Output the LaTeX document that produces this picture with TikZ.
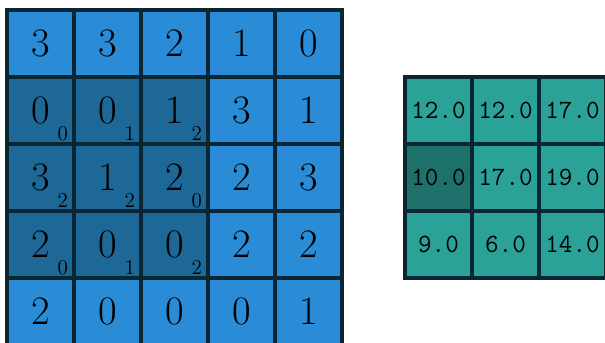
\documentclass[tikz,border=0pt]{standalone}
\usepackage{tikz}
\usetikzlibrary{calc}

\begin{document}
\begin{tikzpicture}[x=0.02cm,y=-0.02cm]
        % Define colors for the cells
        \definecolor{inlight}{RGB}{42,140,214} % Blue
        \definecolor{indark}{RGB}{30,104,152} % Darker blue
        \definecolor{outlight}{RGB}{42,162,152} % Teal
        \definecolor{outdark}{RGB}{30,112,106} % Darker teal
        \definecolor{gridline}{RGB}{10,38,50}

        \tikzset{
          cell/.style={draw=gridline, line width=2pt, minimum size=1.34cm, inner sep=0pt,
            font=\fontsize{23}{27}\selectfont},
          outcell/.style={cell, font=\fontsize{15}{18}\selectfont\ttfamily},
          subnum/.style={inner sep=0pt, font=\fontsize{12}{14}\selectfont}
        }

        % Visible window (grids run past the lower and right edges)
        \useasboundingbox (0,0) rectangle (605,342);
        \clip (0,0) rectangle (605,342);

        % Input grid
        \foreach \row [count=\r] in {{3,3,2,1,0},{0,0,1,3,1},{3,1,2,2,3},{2,0,0,2,2},{2,0,0,0,1}} {
          \foreach \val [count=\c] in \row {
            \pgfmathtruncatemacro\isdark{(\r>1)&&(\r<5)&&(\c<4)}
            \ifnum\isdark=1 \def\cellcol{indark}\else\def\cellcol{inlight}\fi
            \node[cell, fill=\cellcol] (in\r\c) at ({40.5+67*(\c-1)},{43.5+67*(\r-1)}) {\val};
          }
        }

        % Kernel weights
        \foreach \wrow [count=\r from 2] in {{0,1,2},{2,2,0},{0,1,2}} {
          \foreach \w [count=\c] in \wrow {
            \node[subnum] (w\r\c) at ($(in\r\c.south east)+(-13,-12)$) {\w};
          }
        }

        % Output grid
        \foreach \row [count=\r] in {{12.0,12.0,17.0},{10.0,17.0,19.0},{9.0,6.0,14.0}} {
          \foreach \val [count=\c] in \row {
            \pgfmathtruncatemacro\isdark{(\r==2)&&(\c==1)}
            \ifnum\isdark=1 \def\cellcol{outdark}\else\def\cellcol{outlight}\fi
            \node[outcell, fill=\cellcol] (out\r\c) at ({438.5+67*(\c-1)},{110.5+67*(\r-1)}) {\val};
          }
        }
\end{tikzpicture}
\end{document}
